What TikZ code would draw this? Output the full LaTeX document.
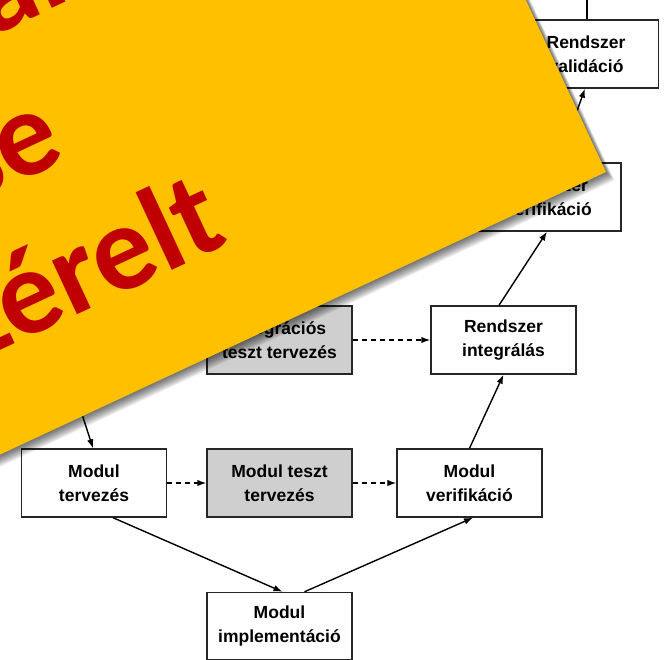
\documentclass[tikz,border=0pt]{standalone}
\usepackage{fontspec}
\setmainfont{Liberation Sans}
\newfontfamily\ovfont{Carlito}
\usetikzlibrary{arrows.meta}
\definecolor{ovorange}{HTML}{FFC000}
\definecolor{ovred}{HTML}{C00000}
\begin{document}
\begin{tikzpicture}[x=1pt,y=1pt,
  box/.style={draw=black!85, line width=1.4pt, fill=white, minimum width=145pt, minimum height=68pt, inner sep=0pt, align=center, font=\bfseries\fontsize{17.5}{24}\selectfont},
  gbox/.style={box, fill=black!19},
  arr/.style={line width=1.4pt, -{Latex[length=9pt,width=6.5pt]}},
  darr/.style={arr, dash pattern=on 5pt off 4pt},
  ovtext/.style={font=\ovfont\bfseries\fontsize{122}{145}\selectfont, text=ovred, inner sep=0pt, rotate=25}]
\useasboundingbox (0,0) rectangle (665,660);
\clip (0,0) rectangle (665,660);
\fill[white] (0,0) rectangle (665,660);
% nodes
\node[box]  (valid)  at (586,606)   {Rendszer\\validáció};
\node[box]  (rverif) at (548.5,463) {Rendszer\\verifikáció};
\node[gbox] (itest)  at (279.5,320) {Integrációs\\teszt tervezés};
\node[box]  (rinteg) at (503.5,320) {Rendszer\\integrálás};
\node[box]  (mterv)  at (94,177)    {Modul\\tervezés};
\node[gbox] (mteszt) at (279.5,177) {Modul teszt\\tervezés};
\node[box]  (mverif) at (469.5,177) {Modul\\verifikáció};
\node[box, minimum height=67pt] (mimpl) at (279.5,34) {Modul\\implementáció};
\coordinate (topfree) at (587,662);
\coordinate (hidsrc) at (71,280);
% connectors
\draw[arr] ([xshift=19pt]mterv.south) -- ([xshift=3pt]mimpl.north);
\draw[arr] ([xshift=25pt]mimpl.north) -- ([xshift=3.5pt]mverif.south);
\draw[arr] (mverif.north) -- (rinteg.south);
\draw[arr] ([xshift=-4.5pt]rinteg.north) -- ([xshift=-1.5pt]rverif.south);
\draw[arr] ([xshift=10pt]rverif.north) -- ([xshift=-1pt]valid.south);
\draw[line width=1.4pt] ([xshift=1pt]valid.north) -- (topfree);
\draw[arr] (hidsrc) -- ([xshift=-1pt]mterv.north);
\draw[darr] (mterv.east) -- (mteszt.west);
\draw[darr] (mteszt.east) -- (mverif.west);
\draw[darr] (itest.east) -- (rinteg.west);
% overlay shadow
\foreach \k in {1,...,14}{
  \begin{scope}[shift={(606+\k*0.6,488-\k*0.6)}, rotate=25]
    \fill[black, opacity=0.05] (-1500,0) rectangle (0,1500);
  \end{scope}
}
\begin{scope}[shift={(606,488)}, rotate=25]
  \fill[ovorange] (-1500,0) rectangle (0,1500);
\end{scope}
\node[ovtext, anchor=base east] (w3) at (231,417) {zérelt};
\node[ovtext, anchor=base east] (w2) at (68,501) {se};
\node[ovtext, anchor=base east] (w1) at (73,661) {al};
\end{tikzpicture}
\end{document}
